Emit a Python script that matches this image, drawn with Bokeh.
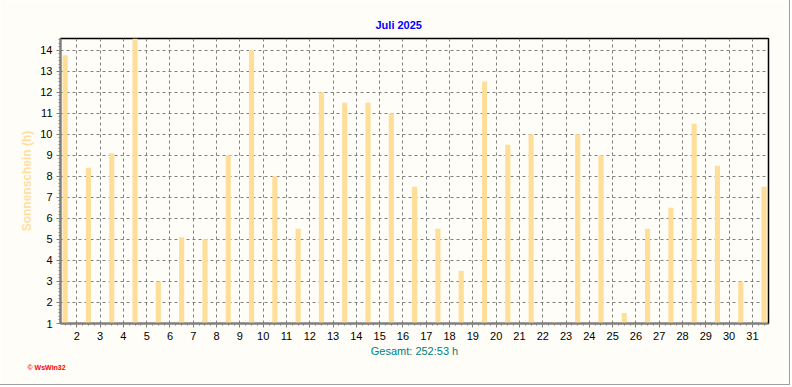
from bokeh.plotting import figure
from bokeh.models import FixedTicker, Title, Range1d
from bokeh.embed import file_html
from bokeh.resources import INLINE

# ---- data ----
days = list(range(1, 32))
sun_hours = [13.75, 8.4, 9.1, 14.8, 3.0, 5.1, 5.0, 9.0, 14.0, 8.0,
             5.5, 12.0, 11.5, 11.5, 11.0, 7.5, 5.5, 3.5, 12.5, 9.5,
             10.0, 1.05, 10.0, 9.0, 1.5, 5.5, 6.5, 10.5, 8.5, 3.0, 7.5]
tick_days = list(range(2, 32))
y_ticks = list(range(1, 15))
title_text = "Juli 2025"
y_label = "Sonnenschein (h)"
total_text = "Gesamt: 252:53 h"
credit_text = "© WsWin32"

# ---- layout / style ----
BG = "#FFFDF7"
BAR = "#FFDE99"
GRID = "#808080"
FONT = "Liberation Sans"

X_START, X_END = 1.30, 31.69
Y_START, Y_END = 1.0, 14.55
FRAME_L, FRAME_T, FRAME_W, FRAME_H = 60, 38, 708, 285

p = figure(width=790, height=385,
           x_range=Range1d(X_START, X_END), y_range=Range1d(Y_START, Y_END),
           output_backend="svg", toolbar_location=None,
           min_border_left=FRAME_L, min_border_right=790 - FRAME_L - FRAME_W,
           min_border_top=FRAME_T, min_border_bottom=385 - FRAME_T - FRAME_H,
           background_fill_color=BG, border_fill_color=BG,
           outline_line_color="black", outline_line_width=1.5)
p.styles = {"border-right": "1px solid #a0a0a0", "border-bottom": "1px solid #a0a0a0"}

# bars at noon of each day
bar_x = [d + 0.5 for d in days]
p.vbar(x=bar_x, top=sun_hours, bottom=0, width=0.22,
       fill_color=BAR, line_color=None)

x_minor = [d + k / 4 for d in range(1, 33) for k in range(4)]
y_minor = [1 + k / 6 for k in range(0, 6 * 15)]
xt = FixedTicker(ticks=tick_days, minor_ticks=x_minor)
yt = FixedTicker(ticks=y_ticks, minor_ticks=y_minor)
p.xaxis.ticker = xt
p.yaxis.ticker = yt

for g, t in ((p.xgrid, xt), (p.ygrid, yt)):
    g.ticker = t
    g.grid_line_color = GRID
    g.grid_line_dash = "3 3"
    g.grid_line_width = 1

for ax in (p.xaxis, p.yaxis):
    ax.axis_line_color = "#808080"
    ax.axis_line_width = 2
    ax.major_tick_line_color = "#808080"
    ax.minor_tick_line_color = "#808080"
    ax.major_tick_out = 4
    ax.major_tick_in = 0
    ax.minor_tick_out = 2
    ax.minor_tick_in = 0
    ax.major_label_text_font = FONT
    ax.major_label_text_font_size = "11px"
    ax.major_label_text_color = "black"
    ax.major_label_standoff = 4
    ax.axis_label_text_font = FONT

p.yaxis.axis_label = y_label
p.yaxis.axis_label_text_font_style = "bold"
p.yaxis.axis_label_text_font_size = "12px"
p.yaxis.axis_label_text_color = "#FFDFA0"
p.yaxis.axis_label_standoff = 3

p.xaxis.axis_label = total_text
p.xaxis.axis_label_text_font_style = "normal"
p.xaxis.axis_label_text_font_size = "11px"
p.xaxis.axis_label_text_color = "#008080"
p.xaxis.axis_label_standoff = 2

p.add_layout(Title(text=title_text, align="left", offset=315, standoff=15,
                   text_font=FONT, text_font_style="bold",
                   text_font_size="11px", text_color="#0000FF"), "above")
p.add_layout(Title(text=credit_text, align="left", offset=-33, standoff=5,
                   text_font=FONT, text_font_style="bold",
                   text_font_size="7px", text_color="#FF0000"), "below")

open("out.html", "w").write(file_html(p, INLINE))
